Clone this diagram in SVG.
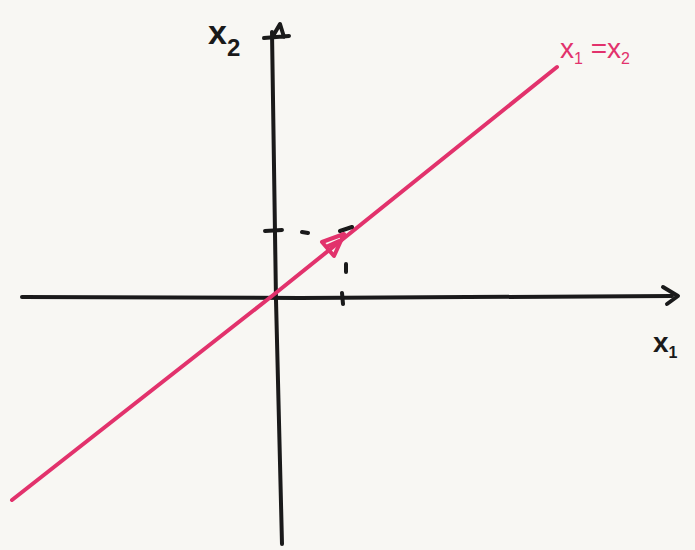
<svg xmlns="http://www.w3.org/2000/svg" width="695" height="550" viewBox="0 0 695 550">
<style>
.ax{fill:none;stroke:#1a1a1a;stroke-width:4;stroke-linecap:round;stroke-linejoin:round}
.pk{fill:none;stroke:#e2326c;stroke-width:4;stroke-linecap:round;stroke-linejoin:round}
.lb{font-family:"Liberation Sans",Arial,sans-serif;font-weight:bold;fill:#1a1a1a}
.lp{font-family:"Liberation Sans",Arial,sans-serif;fill:#e2326c}
</style>
<rect width="695" height="550" fill="#f8f7f3"/>
<g id="connectors">
<path class="ax" d="M22,297 L300,298 L672,296"/>
<path class="ax" d="M663,287 L678,296 L667,304"/>
<path class="ax" d="M272,32 L276,300 L282,544"/>
<path class="ax" d="M264,38 L289,36 M273,36 L280,24 L284,37"/>
<path class="pk" d="M12,500 L272,296 L557,67"/>
<path class="ax" stroke-width="3" d="M265,231 L282,230 M302,232 L308,233 M342,293 L343,304 M346,264 L346,272 M340,231 L352,227"/>
<path class="pk" stroke-width="3.5" d="M344,234 L322,242 L334,256 Z M328,246 L339,241"/>
</g>
<g id="label-x2"><text class="lb" x="208" y="44" font-size="34">x<tspan font-size="24" dy="12">2</tspan></text></g>
<g id="label-x1"><text class="lb" x="653" y="352" font-size="28">x<tspan font-size="16" dy="6">1</tspan></text></g>
<g id="label-line"><text class="lp" x="560" y="58" font-size="28">x<tspan font-size="16" dy="6">1</tspan><tspan dy="-6"> =x</tspan><tspan font-size="16" dy="6">2</tspan></text></g>
</svg>
